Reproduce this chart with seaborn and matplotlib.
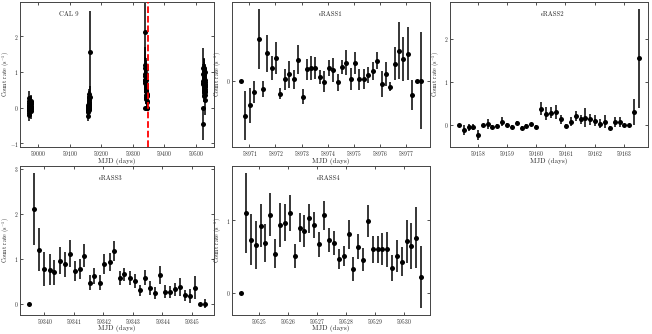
import numpy as np
import matplotlib
matplotlib.use("Agg")
import matplotlib.pyplot as plt
from matplotlib.ticker import MultipleLocator
import seaborn as sns

# eRASS1
t1 = [58970.68, 58970.85, 58971.01, 58971.19, 58971.35, 58971.52, 58971.68, 58971.85,
      58972.03, 58972.19, 58972.35, 58972.52, 58972.70, 58972.86, 58973.04, 58973.20,
      58973.37, 58973.53, 58973.71, 58973.87, 58974.04, 58974.20, 58974.38, 58974.54,
      58974.71, 58974.89, 58975.04, 58975.21, 58975.39, 58975.56, 58975.72, 58975.89,
      58976.06, 58976.23, 58976.39, 58976.57, 58976.73, 58976.90, 58977.06, 58977.24,
      58977.41, 58977.57]
r1 = [0.0, -0.219, -0.154, -0.071, 0.264, -0.051, 0.172, 0.079,
      0.142, -0.083, 0.008, 0.040, 0.008, 0.130, -0.100, 0.071,
      0.079, 0.079, 0.024, -0.006, 0.079, 0.069, -0.010, 0.085,
      0.112, 0.010, 0.110, 0.008, 0.010, 0.035, 0.059, 0.126,
      -0.020, 0.041, -0.037, 0.106, 0.187, 0.136, 0.170, -0.091,
      0.0, 0.0]
e1 = [0.0, 0.156, 0.110, 0.071, 0.188, 0.049, 0.115, 0.076,
      0.098, 0.035, 0.068, 0.086, 0.061, 0.091, 0.048, 0.066,
      0.076, 0.071, 0.043, 0.066, 0.049, 0.076, 0.052, 0.046,
      0.079, 0.070, 0.068, 0.066, 0.063, 0.050, 0.056, 0.056,
      0.081, 0.074, 0.028, 0.103, 0.178, 0.138, 0.166, 0.092,
      0.0, 0.305]

# eRASS2
t2 = [59157.34, 59157.50, 59157.67, 59157.83, 59158.00, 59158.16, 59158.33, 59158.49,
      59158.66, 59158.83, 59159.00, 59159.16, 59159.33, 59159.49, 59159.66, 59159.83,
      59160.00, 59160.17, 59160.34, 59160.50, 59160.67, 59160.84, 59161.02, 59161.18,
      59161.35, 59161.52, 59161.68, 59161.85, 59162.03, 59162.19, 59162.36, 59162.52,
      59162.69, 59162.86, 59163.02, 59163.19, 59163.36, 59163.53]
r2 = [0.0, -0.113, -0.060, -0.053, -0.240, 0.0, 0.015, -0.050,
      -0.020, 0.075, 0.0, -0.040, 0.040, -0.075, -0.020, 0.015,
      -0.045, 0.377, 0.264, 0.287, 0.300, 0.128, -0.015, 0.075,
      0.210, 0.128, 0.166, 0.128, 0.100, 0.030, 0.075, -0.075,
      0.060, 0.060, 0.0, 0.0, 0.300, 1.550]
e2 = [0.0, 0.12, 0.09, 0.07, 0.12, 0.0, 0.12, 0.04,
      0.04, 0.11, 0.04, 0.04, 0.04, 0.04, 0.04, 0.04,
      0.05, 0.15, 0.14, 0.12, 0.16, 0.10, 0.04, 0.11,
      0.11, 0.11, 0.22, 0.13, 0.12, 0.10, 0.15, 0.05,
      0.12, 0.12, 0.0, 0.0, 0.30, 1.15]

# eRASS3
t3 = [59339.47, 59339.65, 59339.81, 59340.00, 59340.18, 59340.34, 59340.52, 59340.68,
      59340.85, 59341.02, 59341.19, 59341.35, 59341.53, 59341.69, 59341.87, 59342.03,
      59342.21, 59342.37, 59342.55, 59342.71, 59342.89, 59343.07, 59343.23, 59343.41,
      59343.57, 59343.75, 59343.91, 59344.09, 59344.25, 59344.43, 59344.59, 59344.77,
      59344.93, 59345.11, 59345.29, 59345.45]
r3 = [0.0, 2.11, 1.20, 0.78, 0.76, 0.70, 0.95, 0.88,
      1.11, 0.73, 0.77, 1.07, 0.47, 0.62, 0.47, 0.88,
      0.93, 1.17, 0.57, 0.65, 0.57, 0.50, 0.30, 0.58,
      0.35, 0.24, 0.64, 0.27, 0.26, 0.32, 0.37, 0.19,
      0.17, 0.36, 0.0, 0.0]
e3 = [0.0, 0.80, 0.48, 0.38, 0.34, 0.28, 0.30, 0.28,
      0.30, 0.22, 0.22, 0.25, 0.16, 0.18, 0.16, 0.22,
      0.20, 0.22, 0.15, 0.15, 0.15, 0.15, 0.12, 0.16,
      0.15, 0.13, 0.20, 0.15, 0.14, 0.15, 0.20, 0.12,
      0.16, 0.25, 0.0, 0.10]

# eRASS4
t4 = [59524.39, 59524.57, 59524.74, 59524.90, 59525.07, 59525.23, 59525.40, 59525.57,
      59525.73, 59525.91, 59526.08, 59526.25, 59526.41, 59526.58, 59526.75, 59526.92,
      59527.09, 59527.26, 59527.43, 59527.60, 59527.76, 59527.93, 59528.10, 59528.26,
      59528.43, 59528.59, 59528.76, 59528.93, 59529.10, 59529.26, 59529.43, 59529.60,
      59529.76, 59529.93, 59530.10, 59530.26, 59530.43, 59530.60]
r4 = [0.0, 1.107, 0.735, 0.66, 0.93, 0.69, 1.08, 0.54,
      0.94, 0.97, 1.10, 0.51, 0.90, 0.86, 1.03, 0.94,
      0.67, 1.07, 0.73, 0.69, 0.47, 0.51, 0.81, 0.33,
      0.64, 0.46, 0.995, 0.60, 0.60, 0.60, 0.60, 0.35,
      0.51, 0.43, 0.71, 0.65, 0.76, 0.22]
e4 = [0.0, 0.55, 0.35, 0.33, 0.30, 0.26, 0.30, 0.20,
      0.30, 0.25, 0.25, 0.17, 0.20, 0.22, 0.20, 0.18,
      0.17, 0.20, 0.16, 0.16, 0.14, 0.14, 0.20, 0.17,
      0.17, 0.16, 0.22, 0.18, 0.18, 0.22, 0.24, 0.18,
      0.22, 0.20, 0.30, 0.32, 0.42, 0.43]

# extra CAL 9 point outside the eRASS4 window
t_extra = [59524.0]
r_extra = [-0.45]
e_extra = [0.45]

cal_line = 59350

sns.set_style("ticks")
plt.rcParams['font.family'] = 'serif'
plt.rcParams['font.serif'] = ['cmr10', 'DejaVu Serif']
plt.rcParams['mathtext.fontset'] = 'cm'
plt.rcParams['axes.formatter.use_mathtext'] = True
plt.rcParams['axes.unicode_minus'] = True

fig = plt.figure(figsize=(6.52, 3.34), dpi=100)

W, H = 652.0, 334.0
def box(l, t, r, b):
    return [l / W, 1 - b / H, (r - l) / W, (b - t) / H]

def draw(ax, t, r, e, label, lx, xstep, xlab_y):
    ax.set_facecolor('none')
    ax.errorbar(t, r, yerr=e, fmt='none', ecolor='black', elinewidth=1.1, capsize=0, zorder=2)
    sns.scatterplot(x=t, y=r, ax=ax, color='black', s=13, edgecolor='black', linewidth=0, zorder=3)
    ax.xaxis.set_major_locator(MultipleLocator(xstep))
    ax.yaxis.set_major_locator(MultipleLocator(1))
    ax.ticklabel_format(axis='x', useOffset=False, style='plain')
    ax.tick_params(direction='in', top=True, right=True, length=2.5, width=0.6,
                   labelsize=4.0, pad=1.2, color='#333333')
    for s in ax.spines.values():
        s.set_linewidth(0.7)
        s.set_color('#444444')
    ax.set_xlabel('MJD (days)', fontsize=5.1)
    ax.set_ylabel(r'Count rate (s$^{-1}$)', fontsize=4.4)
    ax.xaxis.set_label_coords(0.5, xlab_y)
    ax.yaxis.set_label_coords(-0.042, 0.5)
    ax.text(lx, 0.92, label, transform=ax.transAxes, fontsize=4.8, ha='center', va='center')

ax0 = fig.add_axes(box(20, 2, 214, 147))
draw(ax0, t1 + t2 + t3 + t_extra + t4, r1 + r2 + r3 + r_extra + r4,
     e1 + e2 + e3 + e_extra + e4, 'CAL 9', 0.25, 100, -0.074)
ax0.axvline(cal_line, color='red', ls='--', lw=1.3, zorder=4)
ax0.set_ylim(-1.1, 2.95)

ax1 = fig.add_axes(box(232, 2, 430, 147))
draw(ax1, t1, r1, e1, 'eRASS1', 0.5, 1, -0.074)

ax2 = fig.add_axes(box(450, 2, 648, 147))
draw(ax2, t2, r2, e2, 'eRASS2', 0.52, 1, -0.074)

ax3 = fig.add_axes(box(20, 166, 214, 315))
draw(ax3, t3, r3, e3, 'eRASS3', 0.47, 1, -0.07)

ax4 = fig.add_axes(box(232, 166, 430, 315))
draw(ax4, t4, r4, e4, 'eRASS4', 0.49, 1, -0.07)

fig.savefig('out.png', dpi=100)
